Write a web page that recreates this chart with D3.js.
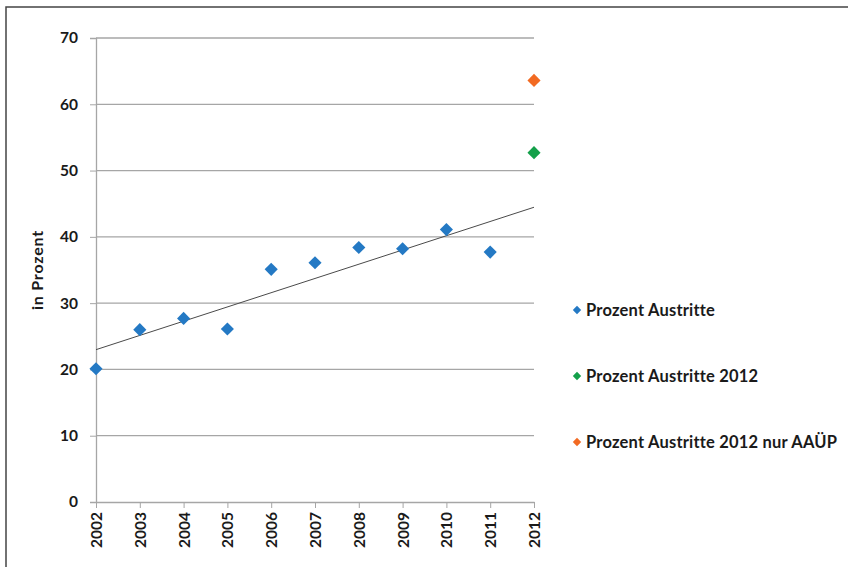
<!DOCTYPE html>
<html>
<head>
<meta charset="utf-8">
<script src="https://cdn.jsdelivr.net/npm/d3@7"></script>
<style>
  body { margin: 0; background: #fff; }
  svg text { font-family: Lato, "Open Sans", sans-serif; font-weight: bold; fill: #1a1a1a; }
</style>
</head>
<body>
<div id="chart"></div>
<script>
// Chart data
const years = ['2002', '2003', '2004', '2005', '2006', '2007', '2008', '2009', '2010', '2011', '2012'];
const austritte = [20.1, 26.0, 27.7, 26.1, 35.1, 36.1, 38.4, 38.2, 41.1, 37.7];
const austritte2012 = [52.7];
const austritte2012AAUP = [63.6];
const yTicks = [0, 10, 20, 30, 40, 50, 60, 70];
const legendLabels = ['Prozent Austritte', 'Prozent Austritte 2012', 'Prozent Austritte 2012 nur AAÜP'];
const colors = ['#2479c4', '#14a04a', '#f26a22'];

const width = 848, height = 567;
const margin = { left: 96, right: 314, top: 38, bottom: 65 };

const svg = d3.select('#chart').append('svg')
    .attr('width', width)
    .attr('height', height);

// outer frame (top and left edge)
svg.append('path')
    .attr('d', `M6,${height} L6,7 L${width},7`)
    .attr('fill', 'none')
    .attr('stroke', '#444')
    .attr('stroke-width', 1.5);

const x = d3.scalePoint()
    .domain(years)
    .range([margin.left, width - margin.right]);

const y = d3.scaleLinear()
    .domain([0, 70])
    .range([height - margin.bottom, margin.top]);

// gridlines
svg.append('g')
    .selectAll('line')
    .data(yTicks.filter(d => d > 0))
    .join('line')
    .attr('x1', margin.left)
    .attr('x2', width - margin.right)
    .attr('y1', d => y(d))
    .attr('y2', d => y(d))
    .attr('stroke', '#a6a6a6')
    .attr('stroke-width', 1.3);

// y axis
const yAxis = svg.append('g')
    .attr('transform', `translate(${margin.left},0)`)
    .call(d3.axisLeft(y).tickValues(yTicks).tickSize(6).tickPadding(12));
yAxis.select('.domain').attr('stroke', '#a6a6a6').attr('stroke-width', 1.3);
yAxis.selectAll('.tick line').attr('stroke', '#a6a6a6');
yAxis.selectAll('.tick text').style('font-size', '15.5px').attr('fill', '#1a1a1a');

// x axis
const xAxis = svg.append('g')
    .attr('transform', `translate(0,${y(0)})`)
    .call(d3.axisBottom(x).tickSize(6).tickSizeOuter(0));
xAxis.select('.domain').attr('stroke', '#a6a6a6').attr('stroke-width', 1.3);
xAxis.selectAll('.tick line').attr('stroke', '#a6a6a6');
xAxis.selectAll('.tick text')
    .style('font-size', '15.5px')
    .attr('fill', '#1a1a1a')
    .attr('transform', 'rotate(-90)')
    .attr('text-anchor', 'end')
    .attr('x', -10)
    .attr('y', 0)
    .attr('dy', '0.35em');

// y axis title
svg.append('text')
    .attr('transform', `translate(37,${(y(0) + y(70)) / 2}) rotate(-90)`)
    .attr('text-anchor', 'middle')
    .attr('dy', '0.35em')
    .style('font-size', '16px')
    .style('letter-spacing', '0.8px')
    .text('in Prozent');

// linear trendline of Prozent Austritte, extended to 2012
const mx = d3.mean(austritte, (d, i) => i);
const my = d3.mean(austritte);
const slope = d3.sum(austritte, (d, i) => (i - mx) * (d - my)) / d3.sum(austritte, (d, i) => (i - mx) * (i - mx));
const intercept = my - slope * mx;
const trend = [0, years.length - 1].map(i => [x(years[i]), y(intercept + slope * i)]);
svg.append('path')
    .attr('d', d3.line()(trend))
    .attr('fill', 'none')
    .attr('stroke', '#4a4a4a')
    .attr('stroke-width', 1);

const diamond = d3.symbol().type(d3.symbolDiamond2).size(110);

// markers
const seriesPoints = [
    austritte.map((v, i) => ({ year: years[i], value: v })),
    austritte2012.map(v => ({ year: '2012', value: v })),
    austritte2012AAUP.map(v => ({ year: '2012', value: v }))
];
seriesPoints.forEach((pts, s) => {
    svg.append('g')
        .selectAll('path')
        .data(pts)
        .join('path')
        .attr('d', diamond)
        .attr('transform', d => `translate(${x(d.year)},${y(d.value)})`)
        .attr('fill', colors[s]);
});

// legend
const legend = svg.append('g')
    .selectAll('g')
    .data(legendLabels)
    .join('g')
    .attr('transform', (d, i) => `translate(577,${310 + i * 66})`);
legend.append('path')
    .attr('d', d3.symbol().type(d3.symbolDiamond2).size(45))
    .attr('fill', (d, i) => colors[i]);
legend.append('text')
    .attr('x', 9)
    .attr('dy', '0.35em')
    .style('font-size', '16.5px')
    .style('letter-spacing', '0.2px')
    .text(d => d);
</script>
</body>
</html>
